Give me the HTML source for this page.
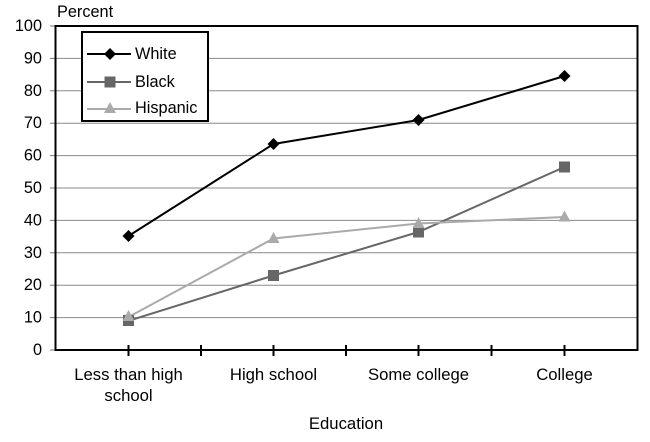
<!DOCTYPE html>
<html><head><meta charset="utf-8"><style>
html,body{margin:0;padding:0;background:#fff;}
svg{display:block;}
text{font-family:"Liberation Sans",Arial,sans-serif;font-size:16.3px;fill:#000;}
.xl{font-size:16.7px;}
</style></head><body>
<svg width="650" height="442" viewBox="0 0 650 442" xmlns="http://www.w3.org/2000/svg">
<rect width="650" height="442" fill="#fff"/>
<!-- gridlines -->
<g stroke="#8a8a8a" stroke-width="1">
<line x1="56" x2="637" y1="58.4" y2="58.4"/>
<line x1="56" x2="637" y1="90.8" y2="90.8"/>
<line x1="56" x2="637" y1="123.2" y2="123.2"/>
<line x1="56" x2="637" y1="155.6" y2="155.6"/>
<line x1="56" x2="637" y1="188" y2="188"/>
<line x1="56" x2="637" y1="220.4" y2="220.4"/>
<line x1="56" x2="637" y1="252.8" y2="252.8"/>
<line x1="56" x2="637" y1="285.2" y2="285.2"/>
<line x1="56" x2="637" y1="317.6" y2="317.6"/>
</g>
<!-- y ticks -->
<g stroke="#777" stroke-width="1">
<line x1="50" x2="56" y1="26" y2="26"/>
<line x1="50" x2="56" y1="58.4" y2="58.4"/>
<line x1="50" x2="56" y1="90.8" y2="90.8"/>
<line x1="50" x2="56" y1="123.2" y2="123.2"/>
<line x1="50" x2="56" y1="155.6" y2="155.6"/>
<line x1="50" x2="56" y1="188" y2="188"/>
<line x1="50" x2="56" y1="220.4" y2="220.4"/>
<line x1="50" x2="56" y1="252.8" y2="252.8"/>
<line x1="50" x2="56" y1="285.2" y2="285.2"/>
<line x1="50" x2="56" y1="317.6" y2="317.6"/>
<line x1="50" x2="56" y1="350" y2="350"/>
</g>
<!-- frame -->
<g stroke="#000" stroke-width="2" fill="none">
<line x1="55.5" y1="26" x2="637.5" y2="26"/>
<line x1="637.5" y1="25" x2="637.5" y2="351"/>
<line x1="55.5" y1="25" x2="55.5" y2="351"/>
<line x1="55" y1="350" x2="638" y2="350"/>
</g>
<!-- x ticks -->
<g stroke="#000" stroke-width="2">
<line x1="128.5" x2="128.5" y1="345" y2="356"/>
<line x1="201" x2="201" y1="345" y2="356"/>
<line x1="273.5" x2="273.5" y1="345" y2="356"/>
<line x1="346" x2="346" y1="345" y2="356"/>
<line x1="418.5" x2="418.5" y1="345" y2="356"/>
<line x1="491.5" x2="491.5" y1="345" y2="356"/>
<line x1="564.5" x2="564.5" y1="345" y2="356"/>
</g>
<!-- y labels -->
<g text-anchor="end">
<text x="42" y="31">100</text>
<text x="42" y="63.4">90</text>
<text x="42" y="95.8">80</text>
<text x="42" y="128.2">70</text>
<text x="42" y="160.6">60</text>
<text x="42" y="193">50</text>
<text x="42" y="225.4">40</text>
<text x="42" y="257.8">30</text>
<text x="42" y="290.2">20</text>
<text x="42" y="322.6">10</text>
<text x="42" y="355">0</text>
</g>
<text x="57" y="17">Percent</text>
<!-- x labels -->
<g text-anchor="middle">
<text class="xl" x="128.5" y="380">Less than high</text>
<text class="xl" x="128.5" y="401">school</text>
<text class="xl" x="273.5" y="380">High school</text>
<text class="xl" x="418.5" y="380">Some college</text>
<text class="xl" x="564.5" y="380">College</text>
<text class="xl" x="346" y="429">Education</text>
</g>
<!-- series: Black -->
<polyline points="128.5,320.8 273.5,275.5 418.5,232 564.5,167" fill="none" stroke="#666" stroke-width="2"/>
<!-- Hispanic -->
<polyline points="128.5,317 273.5,238.5 418.5,223.5 564.5,217" fill="none" stroke="#aaa" stroke-width="2"/>
<!-- White -->
<polyline points="128.5,236 273.5,144 418.5,120 564.5,76" fill="none" stroke="#000" stroke-width="2"/>
<!-- markers black -->
<g fill="#666">
<rect x="123" y="315" width="11" height="11"/>
<rect x="268" y="270" width="11" height="11"/>
<rect x="413" y="226.5" width="11" height="11"/>
<rect x="559" y="161.5" width="11" height="11"/>
</g>
<!-- markers hispanic -->
<g fill="#aaa">
<polygon points="128.5,310 134.5,321 122.5,321"/>
<polygon points="273.5,232 279.5,243 267.5,243"/>
<polygon points="418.5,217 424.5,228 412.5,228"/>
<polygon points="564.5,210.5 570.5,221.5 558.5,221.5"/>
</g>
<!-- markers white -->
<g fill="#000">
<polygon points="128.5,230 134.5,236 128.5,242 122.5,236"/>
<polygon points="273.5,138 279.5,144 273.5,150 267.5,144"/>
<polygon points="418.5,114 424.5,120 418.5,126 412.5,120"/>
<polygon points="564.5,70 570.5,76 564.5,82 558.5,76"/>
</g>
<!-- legend -->
<rect x="82" y="32" width="126" height="89" fill="#fff" stroke="#000" stroke-width="2"/>
<line x1="87" x2="131" y1="54" y2="54" stroke="#000" stroke-width="2"/>
<polygon points="110,48 116,54 110,60 104,54" fill="#000"/>
<line x1="87" x2="131" y1="82" y2="82" stroke="#666" stroke-width="2"/>
<rect x="104.5" y="76.5" width="11" height="11" fill="#666"/>
<line x1="87" x2="131" y1="109" y2="109" stroke="#aaa" stroke-width="2"/>
<polygon points="110,102 116,113 104,113" fill="#aaa"/>
<text x="135" y="59">White</text>
<text x="135" y="87">Black</text>
<text x="135" y="113">Hispanic</text>
</svg>
</body></html>
